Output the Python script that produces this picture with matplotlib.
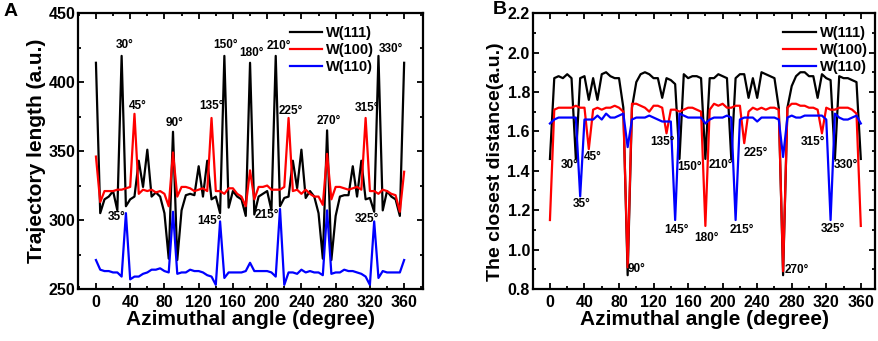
import matplotlib
matplotlib.use("Agg")
import matplotlib.pyplot as plt
from matplotlib.ticker import MultipleLocator

plt.rcParams['font.family'] = ['Liberation Sans', 'DejaVu Sans']
plt.rcParams['font.weight'] = 'bold'

angles = list(range(0, 361, 5))

# trajectory length (a.u.)
traj_111 = [414, 305, 315, 317, 321, 307, 419, 310, 315, 317, 343, 324, 351, 317, 320, 317, 305, 272, 364,
            271, 307, 318, 319, 318, 339, 317, 343, 315, 317, 305, 419, 309, 321, 317, 315, 303, 414,
            304, 317, 319, 321, 307, 419, 310, 316, 317, 343, 323, 351, 316, 321, 317, 305, 272, 365,
            271, 303, 317, 318, 318, 339, 317, 343, 315, 316, 306, 419, 307, 321, 317, 315, 303, 414]
traj_100 = [346, 313, 321, 321, 321, 322, 322, 323, 324, 377, 319, 322, 321, 322, 320, 321, 319, 310, 349,
            317, 324, 324, 323, 321, 322, 323, 321, 374, 321, 321, 319, 323, 323, 319, 317, 310, 336,
            315, 324, 324, 325, 322, 322, 322, 324, 374, 321, 322, 319, 322, 319, 317, 317, 311, 348,
            315, 324, 324, 323, 322, 323, 324, 322, 374, 321, 321, 319, 322, 321, 319, 318, 306, 335]
traj_110 = [271, 264, 263, 263, 262, 262, 259, 305, 257, 259, 259, 261, 262, 264, 264, 265, 263, 262, 306,
            261, 262, 262, 264, 263, 263, 262, 260, 259, 253, 299, 258, 262, 262, 262, 262, 263, 269,
            263, 263, 263, 263, 262, 259, 308, 253, 262, 262, 261, 264, 262, 263, 262, 262, 260, 307,
            261, 262, 262, 264, 263, 263, 262, 261, 259, 253, 299, 258, 263, 262, 262, 262, 262, 271]

# closest distance (a.u.)
dist_111 = [1.46, 1.87, 1.88, 1.87, 1.89, 1.87, 1.46, 1.87, 1.88, 1.76, 1.87, 1.76, 1.89, 1.90, 1.88, 1.87,
            1.87, 1.72, 0.87, 1.72, 1.85, 1.89, 1.90, 1.89, 1.87, 1.87, 1.77, 1.87, 1.86, 1.84, 1.46, 1.89,
            1.87, 1.88, 1.88, 1.87, 1.46, 1.87, 1.87, 1.89, 1.88, 1.87, 1.46, 1.87, 1.89, 1.89, 1.77, 1.87,
            1.77, 1.90, 1.89, 1.88, 1.87, 1.72, 0.87, 1.72, 1.83, 1.88, 1.90, 1.90, 1.88, 1.88, 1.77, 1.89,
            1.87, 1.86, 1.46, 1.88, 1.87, 1.87, 1.86, 1.85, 1.46]
dist_100 = [1.15, 1.71, 1.72, 1.72, 1.72, 1.72, 1.73, 1.72, 1.72, 1.51, 1.71, 1.72, 1.71, 1.72, 1.72, 1.73,
            1.72, 1.70, 0.91, 1.74, 1.74, 1.73, 1.72, 1.70, 1.73, 1.73, 1.72, 1.59, 1.71, 1.71, 1.70, 1.71,
            1.72, 1.72, 1.71, 1.70, 1.12, 1.71, 1.74, 1.73, 1.74, 1.72, 1.72, 1.73, 1.73, 1.54, 1.70, 1.72,
            1.71, 1.72, 1.71, 1.72, 1.72, 1.71, 0.89, 1.72, 1.74, 1.74, 1.73, 1.73, 1.72, 1.72, 1.71, 1.59,
            1.72, 1.71, 1.71, 1.72, 1.72, 1.72, 1.71, 1.69, 1.12]
dist_110 = [1.64, 1.66, 1.67, 1.67, 1.67, 1.67, 1.67, 1.27, 1.66, 1.66, 1.66, 1.68, 1.66, 1.69, 1.67, 1.67,
            1.68, 1.69, 1.52, 1.66, 1.67, 1.67, 1.67, 1.68, 1.67, 1.66, 1.65, 1.65, 1.65, 1.15, 1.69, 1.68,
            1.67, 1.67, 1.67, 1.67, 1.64, 1.66, 1.67, 1.67, 1.67, 1.68, 1.67, 1.15, 1.66, 1.67, 1.67, 1.67,
            1.65, 1.67, 1.67, 1.67, 1.67, 1.66, 1.47, 1.67, 1.68, 1.67, 1.67, 1.68, 1.68, 1.68, 1.68, 1.68,
            1.66, 1.15, 1.69, 1.67, 1.66, 1.66, 1.67, 1.68, 1.64]

series_labels = ['W(111)', 'W(100)', 'W(110)']
series_colors = ['black', 'red', 'blue']

# peak labels: (text, x, y)
notes_a = [('30°', 33, 427), ('45°', 49, 383), ('90°', 92, 370), ('135°', 135, 383), ('150°', 151, 427),
           ('180°', 182, 421), ('210°', 214, 426), ('225°', 228, 379), ('270°', 272, 372), ('315°', 316, 381),
           ('330°', 344, 424), ('35°', 24, 302), ('145°', 133, 299), ('215°', 200, 304), ('325°', 316, 301)]
notes_b = [('30°', 23, 1.43), ('45°', 50, 1.47), ('35°', 37, 1.23), ('90°', 100, 0.90), ('135°', 130, 1.545),
           ('145°', 146, 1.10), ('150°', 162, 1.42), ('180°', 181, 1.06), ('210°', 198, 1.43), ('215°', 222, 1.10),
           ('225°', 238, 1.49), ('270°', 286, 0.895), ('315°', 305, 1.545), ('325°', 328, 1.105), ('330°', 343, 1.43)]

fig = plt.figure(figsize=(8.79, 3.41), dpi=100)
ax1 = fig.add_axes([0.0887, 0.1525, 0.3925, 0.809])
ax2 = fig.add_axes([0.606, 0.1525, 0.390, 0.809])


def style_axis(ax):
    for sp in ax.spines.values():
        sp.set_linewidth(1.6)
    ax.tick_params(which='both', direction='in', top=True, right=True, width=1.3, labelsize=11.5)
    ax.tick_params(which='major', length=4.5)
    ax.tick_params(which='minor', length=2.5)
    ax.tick_params(axis='x', pad=4)
    ax.tick_params(axis='y', pad=2)
    ax.xaxis.set_major_locator(MultipleLocator(40))
    ax.xaxis.set_minor_locator(MultipleLocator(20))
    for lab in ax.get_xticklabels() + ax.get_yticklabels():
        lab.set_fontweight('bold')
    ax.set_xlabel('Azimuthal angle (degree)', fontsize=15, fontweight='bold', labelpad=0)


for ys, lab, col in zip([traj_111, traj_100, traj_110], series_labels, series_colors):
    ax1.plot(angles, ys, color=col, lw=1.6, label=lab)
ax1.set_xlim(-21, 382)
ax1.set_ylim(250, 450)
ax1.yaxis.set_major_locator(MultipleLocator(50))
ax1.yaxis.set_minor_locator(MultipleLocator(25))
style_axis(ax1)
ax1.set_ylabel('Trajectory length (a.u.)', fontsize=15, fontweight='bold', labelpad=2)
for t, x, y in notes_a:
    ax1.text(x, y, t, ha='center', va='center', fontsize=8.5, fontweight='bold')
ax1.legend(loc='upper right', bbox_to_anchor=(0.875, 0.975), frameon=False, handlelength=2.2,
           borderaxespad=0.0, labelspacing=0.2, handletextpad=0.3, prop={'weight': 'bold', 'size': 10.5})

for ys, lab, col in zip([dist_111, dist_100, dist_110], series_labels, series_colors):
    ax2.plot(angles, ys, color=col, lw=1.6, label=lab)
ax2.set_xlim(-20, 377)
ax2.set_ylim(0.8, 2.2)
ax2.yaxis.set_major_locator(MultipleLocator(0.2))
ax2.yaxis.set_minor_locator(MultipleLocator(0.1))
style_axis(ax2)
ax2.set_yticks(ax2.get_yticks())
ax2.set_yticklabels([f'{v:.1f}' for v in ax2.get_yticks()], fontweight='bold')
ax2.set_ylim(0.8, 2.2)
ax2.set_ylabel('The closest distance(a.u.)', fontsize=14, fontweight='bold', labelpad=2)
ax2.yaxis.set_label_coords(-0.085, 0.46)
for t, x, y in notes_b:
    ax2.text(x, y, t, ha='center', va='center', fontsize=8.5, fontweight='bold')
ax2.legend(loc='upper right', bbox_to_anchor=(0.995, 0.975), frameon=False, handlelength=2.2,
           borderaxespad=0.0, labelspacing=0.2, handletextpad=0.3, prop={'weight': 'bold', 'size': 10.5})

fig.text(0.004, 0.965, 'A', fontsize=14, fontweight='bold', va='center')
fig.text(0.561, 0.972, 'B', fontsize=14, fontweight='bold', va='center')

fig.savefig('out.png', dpi=100)
